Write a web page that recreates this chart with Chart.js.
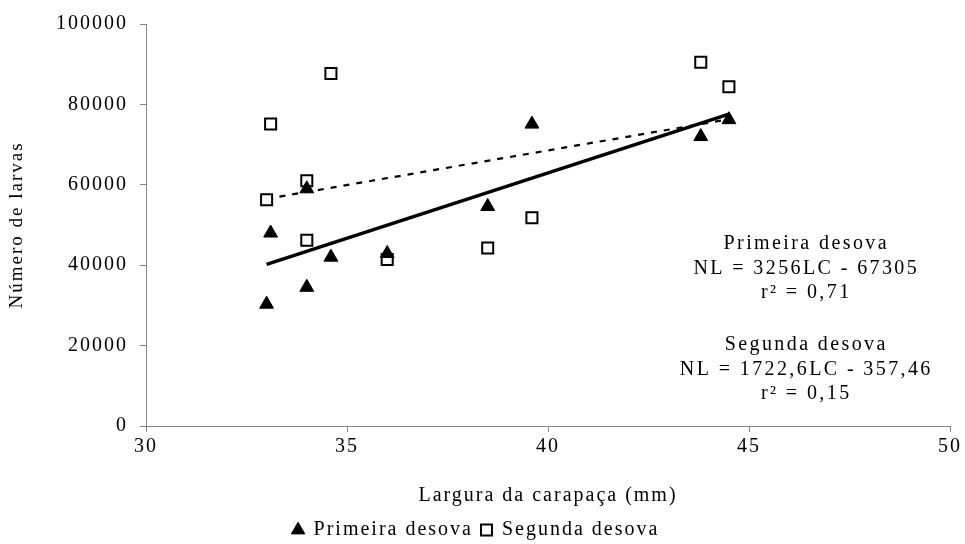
<!DOCTYPE html>
<html>
<head>
<meta charset="utf-8">
<script src="https://cdn.jsdelivr.net/npm/chart.js@4/dist/chart.umd.min.js"></script>
<style>
  html, body { margin: 0; padding: 0; background: #fff; }
  #wrap { width: 965px; height: 544px; }
</style>
</head>
<body>
<div id="wrap"><canvas id="chart" width="965" height="544"></canvas></div>
<script>
// values
const primeiraLC = [33.0, 33.1, 34.0, 34.0, 34.6, 36.0, 38.5, 39.6, 43.8, 44.5];
const primeiraNL = [30300, 48000, 59000, 34500, 42000, 42900, 54600, 75100, 72000, 76200];

const segundaLC = [33.0, 33.1, 34.0, 34.0, 34.6, 36.0, 38.5, 39.6, 43.8, 44.5];
const segundaNL = [56300, 75100, 61000, 46200, 87700, 41400, 44300, 51800, 90500, 84400];

// trend line end points (LC, NL)
const trendPrimeiraLC = [33.0, 44.5];
const trendPrimeiraNL = [40200, 77600];
const trendSegundaLC = [33.0, 44.5];
const trendSegundaNL = [56500, 76300];

const xTicks = [30, 35, 40, 45, 50];
const yTicks = [0, 20000, 40000, 60000, 80000, 100000];

const notes = [
  ["Primeira desova", "NL = 3256LC - 67305", "r\u00B2 = 0,71"],
  ["Segunda desova", "NL = 1722,6LC - 357,46", "r\u00B2 = 0,15"],
];

const toPoints = (xs, ys) => xs.map((x, i) => ({ x: x, y: ys[i] }));

const SERIF = "'Liberation Serif', 'Times New Roman', serif";
const SPACING = "2px";

// excel-like letter spacing on every canvas text
const spacingPlugin = {
  id: "spacing",
  beforeInit(chart) { chart.ctx.letterSpacing = SPACING; },
  beforeUpdate(chart) { chart.ctx.letterSpacing = SPACING; },
  beforeLayout(chart) { chart.ctx.letterSpacing = SPACING; },
  beforeDraw(chart) { chart.ctx.letterSpacing = SPACING; },
};

const notesPlugin = {
  id: "notes",
  afterDatasetsDraw(chart) {
    const ctx = chart.ctx;
    const cx = chart.scales.x.getPixelForValue(46.4);
    const tops = [244, 345];
    ctx.save();
    ctx.letterSpacing = "2.4px";
    ctx.fillStyle = "#000";
    ctx.font = "20px " + SERIF;
    ctx.textAlign = "center";
    ctx.textBaseline = "middle";
    notes.forEach((block, b) => {
      block.forEach((line, i) => {
        ctx.fillText(line, cx + 1, tops[b] + i * 24.5);
      });
    });
    ctx.restore();
  },
};

new Chart(document.getElementById("chart"), {
  type: "scatter",
  data: {
    datasets: [
      {
        label: "Primeira desova",
        data: toPoints(primeiraLC, primeiraNL),
        pointStyle: "triangle",
        pointRadius: 8,
        pointHoverRadius: 8,
        backgroundColor: "#000",
        borderColor: "#000",
        borderWidth: 1,
      },
      {
        label: "Segunda desova",
        data: toPoints(segundaLC, segundaNL),
        pointStyle: "rect",
        pointRadius: 7.8,
        pointHoverRadius: 7.8,
        backgroundColor: "#fff",
        borderColor: "#000",
        borderWidth: 2,
      },
      {
        type: "line",
        label: "trend1",
        data: toPoints(trendPrimeiraLC, trendPrimeiraNL),
        borderColor: "#000",
        borderWidth: 3.5,
        pointRadius: 0,
        fill: false,
      },
      {
        type: "line",
        label: "trend2",
        data: toPoints(trendSegundaLC, trendSegundaNL),
        borderColor: "#000",
        borderWidth: 2.2,
        borderDash: [6, 7],
        pointRadius: 0,
        fill: false,
      },
    ],
  },
  options: {
    responsive: false,
    animation: false,
    events: [],
    layout: { padding: { top: 24, right: 13, left: 0, bottom: -6 } },
    plugins: {
      tooltip: { enabled: false },
      legend: {
        position: "bottom",
        labels: {
          filter: item => item.datasetIndex < 2,
          usePointStyle: true,
          boxWidth: 11,
          boxHeight: 11,
          padding: 8,
          color: "#000",
          font: { family: SERIF, size: 20 },
        },
      },
    },
    scales: {
      x: {
        type: "linear",
        min: 30,
        max: 50,
        afterBuildTicks: s => { s.ticks = xTicks.map(v => ({ value: v })); },
        grid: { drawOnChartArea: false, drawTicks: true, tickLength: 6, color: "#868686" },
        border: { color: "#868686", width: 1 },
        ticks: { color: "#000", padding: 3, font: { family: SERIF, size: 20 }, callback: v => String(v) },
        title: {
          display: true,
          text: "Largura da carapaça (mm)",
          color: "#000",
          font: { family: SERIF, size: 20 },
          padding: { top: 22, bottom: 4 },
        },
      },
      y: {
        min: 0,
        max: 100000,
        afterBuildTicks: s => { s.ticks = yTicks.map(v => ({ value: v })); },
        afterFit: s => { s.width = 146; },
        grid: { drawOnChartArea: false, drawTicks: true, tickLength: 6, color: "#868686" },
        border: { color: "#868686", width: 1 },
        ticks: { color: "#000", padding: 12, font: { family: SERIF, size: 20 }, callback: v => String(v) },
        title: {
          display: true,
          text: "Número de larvas",
          color: "#000",
          font: { family: SERIF, size: 19 },
          padding: { top: 6, bottom: 0 },
        },
      },
    },
  },
  plugins: [spacingPlugin, notesPlugin],
});
</script>
</body>
</html>
